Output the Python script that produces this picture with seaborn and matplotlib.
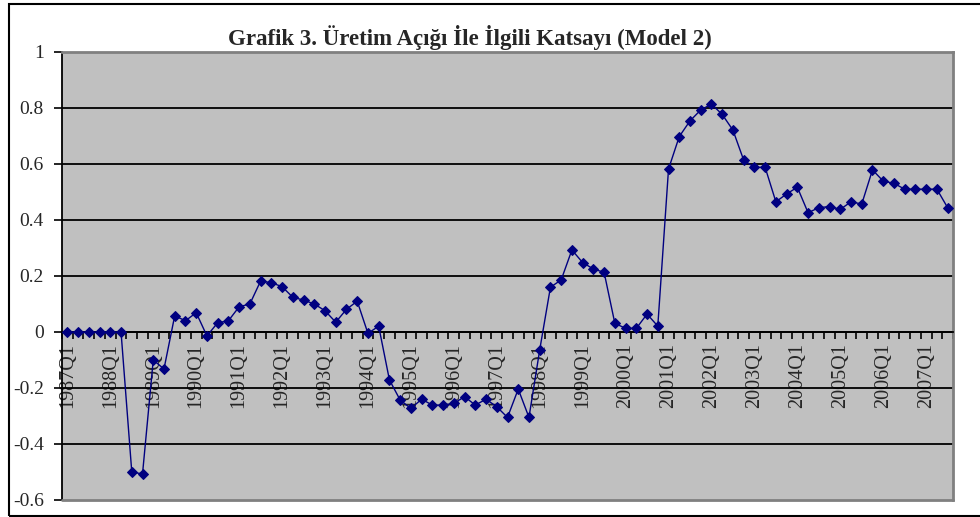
import matplotlib
matplotlib.use('Agg')
import matplotlib.pyplot as plt
import seaborn as sns
import pandas as pd
import numpy as np
from matplotlib.patches import Rectangle
from matplotlib.lines import Line2D

# ---- data ----
quarters = [f"{y}Q{q}" for y in range(1987, 2008) for q in range(1, 5)][:83]
values = [
    0.0, 0.0, 0.0, 0.0, 0.0, 0.0, -0.500, -0.507,          # 1987Q1-1988Q4
    -0.100, -0.132, 0.058, 0.040, 0.069, -0.014, 0.033, 0.040,  # 1989Q1-1990Q4
    0.090, 0.100, 0.182, 0.176, 0.162, 0.124, 0.114, 0.100,    # 1991Q1-1992Q4
    0.076, 0.035, 0.081, 0.110, -0.005, 0.021, -0.171, -0.243, # 1993Q1-1994Q4
    -0.273, -0.240, -0.261, -0.261, -0.255, -0.231, -0.261, -0.240,  # 1995-1996
    -0.267, -0.305, -0.204, -0.305, -0.064, 0.160, 0.186, 0.293,     # 1997-1998
    0.248, 0.225, 0.213, 0.031, 0.013, 0.013, 0.064, 0.021,          # 1999-2000
    0.582, 0.698, 0.754, 0.793, 0.814, 0.777, 0.721, 0.614,          # 2001-2002
    0.588, 0.588, 0.465, 0.493, 0.517, 0.426, 0.444, 0.448,          # 2003-2004
    0.438, 0.465, 0.457, 0.579, 0.539, 0.531, 0.510, 0.510,          # 2005-2006
    0.510, 0.510, 0.444,                                             # 2007Q1-Q3
]
yticks = [-0.6, -0.4, -0.2, 0, 0.2, 0.4, 0.6, 0.8, 1]
ytick_labels = ["-0.6", "-0.4", "-0.2", "0", "0.2", "0.4", "0.6", "0.8", "1"]
title = "Grafik 3. Üretim Açığı İle İlgili Katsayı (Model 2)"

sns.set_theme(style='white')
plt.rcParams['font.family'] = ['Liberation Serif', 'DejaVu Serif']
plt.rcParams['axes.unicode_minus'] = False

W, H = 980, 517
fig = plt.figure(figsize=(W / 100, H / 100), dpi=100)
fig.patch.set_facecolor('white')
ax = fig.add_axes([62 / W, 17 / H, 891 / W, 448 / H])
ax.set_facecolor('#C0C0C0')

df = pd.DataFrame({'pos': np.arange(len(quarters)), 'value': values})

# interior gridlines
for yv in yticks[1:-1]:
    ax.axhline(yv, color='black', lw=1.3, zorder=1)

sns.lineplot(data=df, x='pos', y='value', ax=ax, color='#000080', lw=1.0,
             marker='D', markersize=5.5, markeredgecolor='#000080',
             markerfacecolor='#000080', zorder=3)

ax.set_xlim(-0.5, len(quarters) - 0.5)
ax.set_ylim(-0.6, 1)
ax.set_xlabel('')
ax.set_ylabel('')

# spines first (set_position resets ticks)
ax.spines['bottom'].set_position(('data', 0))
ax.spines['bottom'].set_color('black')
ax.spines['bottom'].set_linewidth(1.3)
ax.spines['left'].set_color('black')
ax.spines['left'].set_linewidth(1.3)
for s in ['top', 'right']:
    ax.spines[s].set_color('#808080')
    ax.spines[s].set_linewidth(2)
ax.add_line(Line2D([0, 1], [0, 0], transform=ax.transAxes, color='#808080',
                   lw=2, clip_on=False, zorder=4))

ax.set_yticks(yticks)
ax.set_yticklabels(ytick_labels, fontsize=14)
ax.tick_params(axis='y', which='major', direction='out', length=6, width=1.2,
               color='black', pad=7, left=True)

major_pos = [i for i, q in enumerate(quarters) if q.endswith('Q1')]
ax.set_xticks(major_pos)
ax.set_xticklabels([quarters[i] for i in major_pos], rotation=90, fontsize=14.5,
                   va='top', ha='center')
ax.set_xticks(np.arange(-0.5, len(quarters)), minor=True)
ax.tick_params(axis='x', which='major', length=0, pad=8, bottom=True)
ax.tick_params(axis='x', which='minor', direction='out', length=5, width=1.2,
               color='black', bottom=True)

fig.text(470 / W, 1 - 37 / H, title, ha='center', va='center',
         fontsize=16.5, fontweight='bold')

fig.patches.append(Rectangle((8.5 / W, 1.5 / H), 1.2, (515.5 - 4) / H,
                             transform=fig.transFigure, fill=False,
                             edgecolor='black', lw=1.5))

fig.savefig('out.png', dpi=100)
